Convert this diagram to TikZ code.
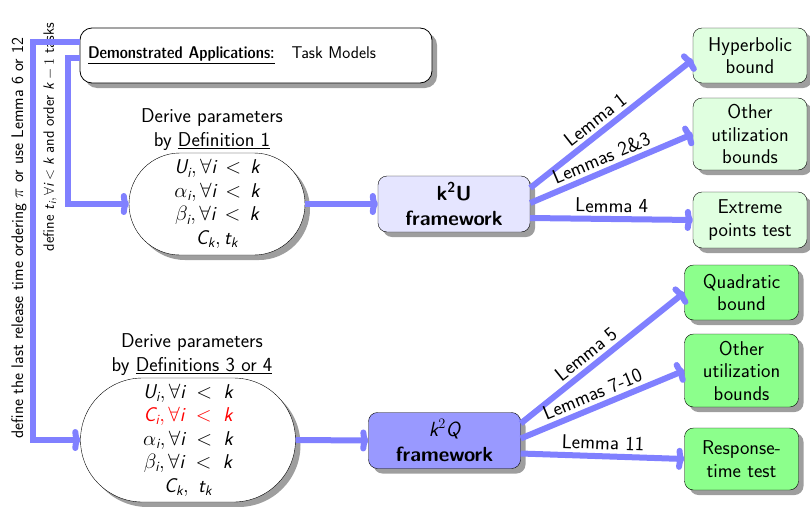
\documentclass[tikz,border=0pt]{standalone}
\usetikzlibrary{shapes.misc,shadows,arrows.meta}
\DeclareMathAlphabet{\mathsfit}{TU}{lmss}{m}{sl}
\renewcommand\familydefault{\sfdefault}
\newcommand{\iv}[1]{\mathsfit{#1}}
\begin{document}
\begin{tikzpicture}[x=1pt,y=-1pt,
  font=\fontsize{20}{23.5}\selectfont,
  shdw/.style={drop shadow={shadow xshift=5pt,shadow yshift=-5pt,fill=black!38,opacity=1}},
  flow/.style={draw=blue!50,line width=6pt,-{To[length=8pt,width=22pt]}},
  tbox/.style={draw,thick,rounded corners=12pt,fill=white,shdw,minimum width=352pt,minimum height=55pt,text width=336pt,align=left,font=\fontsize{17}{20}\selectfont},
  lab/.style={align=center,inner sep=0pt},
  ell/.style={rounded rectangle,draw,fill=white,shdw,align=center,inner sep=1pt,font=\fontsize{20}{23.5}\selectfont},
  fw/.style={draw,rounded corners=9pt,shdw,minimum width=152pt,minimum height=56pt,align=center,inner sep=1pt,font=\fontsize{20.5}{25}\selectfont\bfseries},
  gbox/.style={draw,rounded corners=9pt,shdw,minimum width=114pt,align=center,inner sep=1pt,font=\fontsize{20}{22.5}\selectfont},
  lem/.style={sloped,above,inner sep=3.5pt}]
\useasboundingbox (0,0) rectangle (810,506);

% nodes
\node[tbox] (top) at (256,55.5) {{\fontseries{sbc}\selectfont\underline{Demonstrated Applications:}}\quad Task Models};
\node[lab] (d1) at (212,129.5) {Derive parameters\\by \underline{Definition 1}};
\node[ell,minimum width=178pt,minimum height=102pt] (e1) at (217,204)
  {$\iv{U_i},\forall\iv{i}\,<\,\iv{k}$\\$\alpha_{\iv{i}},\forall\iv{i}\,<\,\iv{k}$\\$\beta_{\iv{i}},\forall\iv{i}\,<\,\iv{k}$\\$\iv{C_k},\iv{t_k}$};
\node[lab] (d2) at (192,354.5) {Derive parameters\\by \underline{Definitions 3 or 4}};
\node[ell,minimum width=217pt,minimum height=124pt] (e2) at (188,440)
  {$\iv{U_i},\forall\iv{i}\;<\;\iv{k}$\\\textcolor{red}{$\iv{C_i},\forall\iv{i}\;<\;\iv{k}$}\\$\alpha_{\iv{i}},\forall\iv{i}\;<\;\iv{k}$\\$\beta_{\iv{i}},\forall\iv{i}\;<\;\iv{k}$\\$\iv{C_k},\;\iv{t_k}$};
\node[fw,fill=blue!10] (ku) at (454,204) {k\textsuperscript{2}U\\framework};
\node[fw,fill=blue!40] (kq) at (444.5,440.5) {$\iv{k}^2\iv{Q}$\\framework};
\node[gbox,fill=green!12,minimum height=55pt] (hb) at (750,55.5) {Hyperbolic\\bound};
\node[gbox,fill=green!12,minimum height=72pt] (ob1) at (750,134) {Other\\utilization\\bounds};
\node[gbox,fill=green!12,minimum height=56pt] (ep) at (750,220) {Extreme\\points test};
\node[gbox,fill=green!45,minimum height=55pt] (qb) at (741.5,292.5) {Quadratic\\bound};
\node[gbox,fill=green!45,minimum height=73pt] (ob2) at (741.5,370.5) {Other\\utilization\\bounds};
\node[gbox,fill=green!45,minimum height=62pt] (rt) at (741.5,459) {Response-\\time test};
\node[rotate=90,font=\fontsize{16.8}{19}\selectfont] (r1) at (19,238) {define the last release time ordering $\pi$ or use Lemma 6 or 12};
\node[rotate=90,font=\fontsize{15}{18}\selectfont] (r2) at (50,137) {define $\iv{t_i},\forall\iv{i}<\iv{k}$ and order $\iv{k}-1$ tasks};

% connectors
\draw[flow] ([yshift=14pt]top.west) -- ++(-47,0) |- (e2.west);
\draw[flow] ([yshift=-2.5pt]top.west) -- ++(-12,0) |- (e1.west);
\draw[flow] (e1.east) -- (ku.west);
\draw[flow] (e2.east) -- (kq.west);
\draw[flow] ([yshift=16pt]ku.east) -- node[lem,pos=0.45]{Lemma 1} ([yshift=-4pt]hb.west);
\draw[flow] ([yshift=1pt]ku.east) -- node[lem,pos=0.47]{Lemmas 2\&3} (ob1.west);
\draw[flow] ([yshift=-14pt]ku.east) -- node[lem,pos=0.5]{Lemma 4} (ep.west);
\draw[flow] ([yshift=17pt]kq.east) -- node[lem,pos=0.45]{Lemma 5} (qb.west);
\draw[flow] ([yshift=2pt]kq.east) -- node[lem,pos=0.47]{Lemmas 7-10} (ob2.west);
\draw[flow] ([yshift=-13pt]kq.east) -- node[lem,pos=0.5]{Lemma 11} (rt.west);
\end{tikzpicture}
\end{document}
